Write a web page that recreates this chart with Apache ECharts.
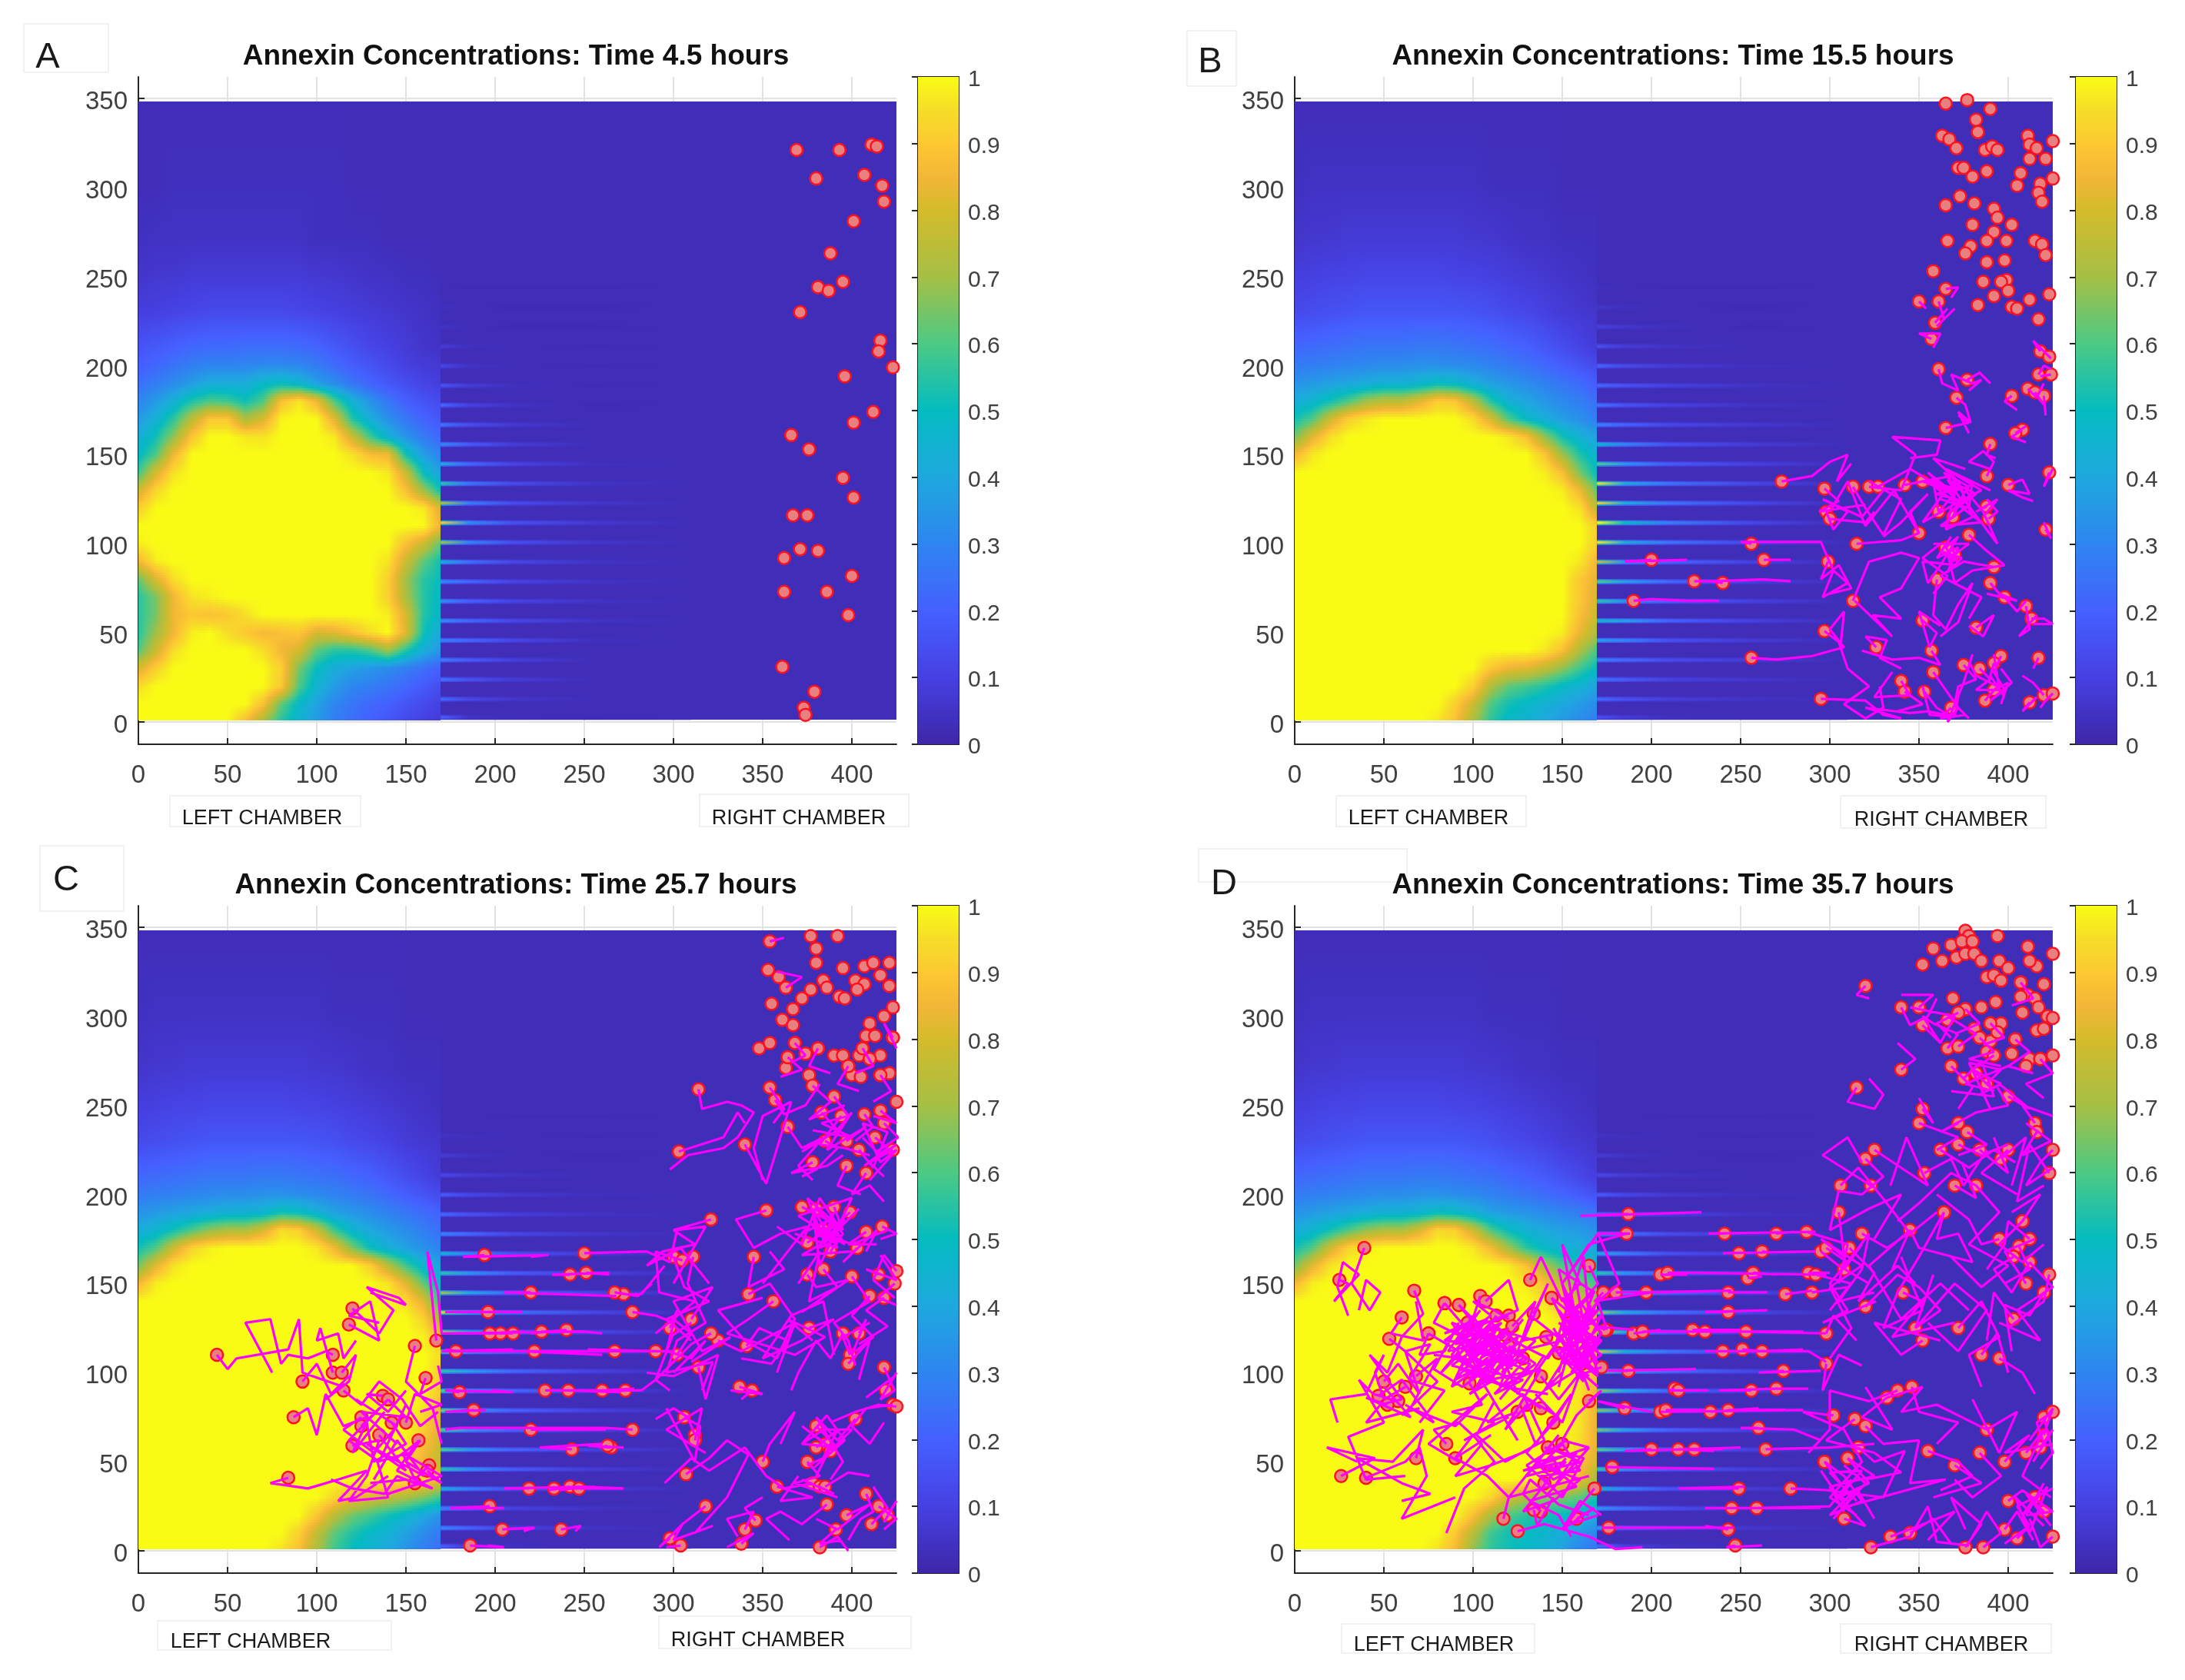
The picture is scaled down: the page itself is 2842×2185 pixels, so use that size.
<!DOCTYPE html>
<html>
<head>
<meta charset="utf-8">
<title>Annexin Concentrations</title>
<script src="https://cdn.jsdelivr.net/npm/echarts@6/dist/echarts.min.js"></script>
<style>html,body{margin:0;padding:0;background:#fff}</style>
</head>
<body>
<div id="main" style="width:2842px;height:2185px"></div>
<script type="text/javascript">
var xTicks = [0,50,100,150,200,250,300,350,400];
var yTicks = [0,50,100,150,200,250,300,350];
var titles = ['Annexin Concentrations: Time 4.5 hours','Annexin Concentrations: Time 15.5 hours','Annexin Concentrations: Time 25.7 hours','Annexin Concentrations: Time 35.7 hours'];

// concentration x100, read at these columns and rows of the left chamber
var colsX = [0,10,20,30,40,50,60,70,80,90,100,110,120,130,140,150,160,169.5];
var rowsY = [348,300,270,250,230,210,200,190,180,170,160,150,140,130,120,110,100,90,80,70,60,50,40,30,20,10,1];

var heatA = [
[3,3,3,3,3,3,3,3,3,3,3,3,3,3,3,3,3,3],
[3,3,4,4,4,4,4,4,4,4,4,4,3,3,3,3,3,3],
[4,5,5,5,5,5,5,5,5,5,4,4,4,4,3,3,3,3],
[6,7,7,8,8,8,8,8,8,8,7,7,6,5,5,4,4,3],
[9,10,11,12,13,13,13,13,13,12,11,10,9,8,7,6,5,4],
[16,18,20,22,23,23,24,24,24,23,21,18,15,12,10,8,6,5],
[19,22,25,28,30,30,30,31,31,30,27,23,19,16,13,10,8,7],
[24,28,32,37,42,42,42,48,50,46,38,32,26,21,17,14,11,9],
[30,36,44,54,60,58,52,60,88,97,85,60,44,34,26,20,16,13],
[36,44,56,75,90,90,72,80,99,100,100,82,55,42,33,26,21,17],
[42,52,68,90,100,100,97,96,100,100,100,97,78,58,44,34,27,22],
[48,60,85,100,100,100,100,100,100,100,100,100,96,87,85,52,37,29],
[58,80,96,100,100,100,100,100,100,100,100,100,100,100,97,78,50,38],
[78,94,100,100,100,100,100,100,100,100,100,100,100,100,100,88,70,52],
[92,100,100,100,100,100,100,100,100,100,100,100,100,100,100,100,97,80],
[100,100,100,100,100,100,100,100,100,100,100,100,100,100,100,100,100,85],
[98,100,100,100,100,100,100,100,100,100,100,100,100,100,100,88,78,62],
[85,98,100,100,100,100,100,100,100,100,100,100,100,100,96,78,62,52],
[62,80,95,100,100,100,100,100,100,100,100,100,100,100,92,70,55,50],
[55,65,85,96,98,100,100,100,100,100,100,100,100,100,92,72,55,48],
[55,65,85,90,88,90,95,100,100,100,100,100,100,100,98,80,55,47],
[55,70,85,98,100,95,90,86,88,90,80,82,88,95,100,82,52,40],
[60,78,95,100,100,100,100,95,85,80,62,55,55,60,70,55,42,35],
[80,92,100,100,100,100,100,100,92,65,50,42,38,35,32,28,24,20],
[95,100,100,100,100,100,100,100,90,60,45,36,30,28,25,22,18,14],
[100,100,100,100,100,100,100,88,62,48,38,30,26,22,20,16,13,10],
[100,100,100,100,100,100,88,72,55,45,36,28,24,20,17,13,10,8]];

var heatB = [
[3,3,3,3,3,3,3,3,3,3,3,3,3,3,3,3,3,3],
[4,5,5,5,5,5,5,5,5,5,5,4,4,4,4,3,3,3],
[6,7,7,8,8,8,8,8,8,8,7,7,6,5,5,4,4,4],
[9,10,11,11,12,12,12,12,12,11,11,10,9,8,7,6,5,4],
[13,14,15,16,17,17,17,17,17,17,16,15,13,12,10,8,7,6],
[22,23,24,25,26,26,26,27,27,26,25,24,22,20,17,14,11,8],
[27,28,29,30,31,32,32,33,33,32,31,29,27,25,22,19,16,13],
[34,36,38,40,42,44,44,46,50,48,43,38,35,32,29,26,23,19],
[42,46,52,60,70,75,75,82,92,90,75,55,44,39,35,31,28,24],
[52,60,78,92,97,100,100,100,100,100,95,80,60,48,42,37,33,28],
[64,82,95,100,100,100,100,100,100,100,100,100,97,88,68,52,44,38],
[85,97,100,100,100,100,100,100,100,100,100,100,100,100,90,70,54,45],
[100,100,100,100,100,100,100,100,100,100,100,100,100,100,98,88,65,50],
[100,100,100,100,100,100,100,100,100,100,100,100,100,100,100,98,85,62],
[100,100,100,100,100,100,100,100,100,100,100,100,100,100,100,100,96,75],
[100,100,100,100,100,100,100,100,100,100,100,100,100,100,100,100,100,92],
[100,100,100,100,100,100,100,100,100,100,100,100,100,100,100,100,100,92],
[100,100,100,100,100,100,100,100,100,100,100,100,100,100,100,100,97,85],
[100,100,100,100,100,100,100,100,100,100,100,100,100,100,100,100,90,82],
[100,100,100,100,100,100,100,100,100,100,100,100,100,100,100,100,90,80],
[100,100,100,100,100,100,100,100,100,100,100,100,100,100,100,100,88,78],
[100,100,100,100,100,100,100,100,100,100,100,100,100,100,100,98,84,72],
[100,100,100,100,100,100,100,100,100,100,100,100,100,100,97,88,72,60],
[100,100,100,100,100,100,100,100,100,100,100,90,84,82,76,68,58,50],
[100,100,100,100,100,100,100,100,100,100,92,72,62,58,54,48,44,38],
[100,100,100,100,100,100,100,100,100,92,78,60,52,48,44,40,36,32],
[100,100,100,100,100,100,100,100,97,88,72,56,48,44,40,36,32,28]];

var heatC = [
[3,3,3,3,3,3,3,3,3,3,3,3,3,3,3,3,3,3],
[4,5,5,5,5,5,5,5,5,5,5,4,4,4,4,3,3,3],
[6,7,7,8,8,8,8,8,8,8,7,7,6,5,5,4,4,4],
[9,10,11,11,12,12,12,12,12,11,11,10,9,8,7,6,5,4],
[13,14,15,16,17,17,17,17,17,17,16,15,13,12,10,8,7,6],
[22,23,24,25,26,26,26,27,27,26,25,24,22,20,17,14,11,8],
[27,28,29,30,31,32,32,33,33,32,31,29,27,25,22,19,16,13],
[34,36,38,40,42,44,44,46,52,50,44,38,35,32,29,26,23,20],
[42,46,52,60,68,72,72,80,95,92,78,58,46,40,36,32,28,24],
[52,60,78,93,98,100,100,100,100,100,97,85,66,50,43,38,33,29],
[64,82,96,100,100,100,100,100,100,100,100,100,100,92,74,58,46,38],
[85,98,100,100,100,100,100,100,100,100,100,100,100,100,96,82,62,46],
[100,100,100,100,100,100,100,100,100,100,100,100,100,100,100,95,82,55],
[100,100,100,100,100,100,100,100,100,100,100,100,100,100,100,100,93,70],
[100,100,100,100,100,100,100,100,100,100,100,100,100,100,100,100,98,88],
[100,100,100,100,100,100,100,100,100,100,100,100,100,100,100,100,100,95],
[100,100,100,100,100,100,100,100,100,100,100,100,100,100,100,100,100,92],
[100,100,100,100,100,100,100,100,100,100,100,100,100,100,100,100,100,90],
[100,100,100,100,100,100,100,100,100,100,100,100,100,100,100,100,96,85],
[100,100,100,100,100,100,100,100,100,100,100,100,100,100,100,100,92,80],
[100,100,100,100,100,100,100,100,100,100,100,100,100,100,100,97,88,78],
[100,100,100,100,100,100,100,100,100,100,100,100,100,100,100,94,84,75],
[100,100,100,100,100,100,100,100,100,100,100,100,100,100,100,97,93,85],
[100,100,100,100,100,100,100,100,100,100,100,94,86,80,76,72,66,58],
[100,100,100,100,100,100,100,100,100,100,90,74,64,58,52,46,40,34],
[100,100,100,100,100,100,100,100,100,92,76,62,54,48,44,38,32,27],
[100,100,100,100,100,100,100,100,96,88,72,58,50,45,40,34,28,24]];

var heatD = [
[3,3,3,3,3,3,3,3,3,3,3,3,3,3,3,3,3,3],
[4,5,5,5,5,5,5,5,5,5,5,4,4,4,4,3,3,3],
[6,7,7,8,8,8,8,8,8,8,7,7,6,5,5,4,4,4],
[9,10,11,11,12,12,12,12,12,11,11,10,9,8,7,6,5,4],
[13,14,15,16,17,17,17,17,17,17,16,15,13,12,10,8,7,6],
[22,23,24,25,26,26,26,27,27,26,25,24,22,20,18,15,12,9],
[27,28,29,30,31,32,32,33,33,32,31,29,27,25,23,21,18,15],
[34,36,38,40,42,44,44,46,50,48,44,38,36,34,32,30,28,25],
[42,46,52,60,68,72,72,80,94,92,78,60,50,44,40,38,36,33],
[52,60,78,93,98,100,100,100,100,100,97,86,70,55,48,44,42,38],
[64,82,96,100,100,100,100,100,100,100,100,100,98,88,72,60,54,48],
[85,98,100,100,100,100,100,100,100,100,100,100,100,97,88,74,65,58],
[100,100,100,100,100,100,100,100,100,100,100,100,100,100,96,88,80,70],
[100,100,100,100,100,100,100,100,100,100,100,100,100,100,100,96,90,78],
[100,100,100,100,100,100,100,100,100,100,100,100,100,100,100,100,96,84],
[100,100,100,100,100,100,100,100,100,100,100,100,100,100,100,100,96,85],
[100,100,100,100,100,100,100,100,100,100,100,100,100,100,100,100,96,85],
[100,100,100,100,100,100,100,100,100,100,100,100,100,100,100,100,96,84],
[100,100,100,100,100,100,100,100,100,100,100,100,100,100,100,100,96,83],
[100,100,100,100,100,100,100,100,100,100,100,100,100,100,100,100,96,82],
[100,100,100,100,100,100,100,100,100,100,100,100,100,100,100,100,95,82],
[100,100,100,100,100,100,100,100,100,100,100,100,100,100,100,97,90,80],
[100,100,100,100,100,100,100,100,100,100,100,100,100,100,97,92,84,70],
[100,100,100,100,100,100,100,100,100,100,100,94,80,72,68,66,62,52],
[100,100,100,100,100,100,100,100,100,100,88,72,60,55,52,50,46,40],
[100,100,100,100,100,100,100,100,100,90,74,58,52,50,46,42,36,30],
[100,100,100,100,100,100,100,100,96,86,68,56,52,48,44,38,30,25]];

// channels joining the chambers: concentration x100 at channelX along each channel
var channelY = [2.6,12.8,23.8,34.8,45.8,56.8,67.8,78.8,89.8,100.8,111.8,122.8,133.8,144.8,155.8,166.8,177.8,188.8,199.8,210.8,221.8,232.8,243.8];
var channelX = [169.5,185,210,255,310];
var channelA = [[20,5,3,2],[22,12,6,3],[25,15,8,3],[28,18,9,3],[30,22,12,4],[33,22,12,5],[33,20,11,5],[32,21,11,5],[45,24,12,5],[70,30,14,6],[90,33,15,7],[72,28,13,6],[55,26,13,5],[42,22,11,4],[32,18,8,3],[26,14,7,3],[22,10,5,2],[16,8,4,2],[12,5,3,2],[8,4,3,2],[5,3,2,2],[4,3,2,2],[3,2,2,2]];
var channelB = [[15,8,4,3],[22,15,9,5],[25,18,10,6],[30,22,13,8],[38,30,15,8],[48,38,20,10],[55,34,20,10],[60,38,22,10],[80,35,22,10],[95,42,25,12],[100,50,28,12],[90,42,25,12],[95,42,25,12],[60,35,18,10],[48,30,15,8],[30,20,12,7],[25,16,10,5],[22,15,10,5],[20,13,8,4],[14,8,5,3],[10,6,4,2],[6,4,3,2],[4,3,2,2]];
var channelC = [[20,8,4,3],[30,20,10,5],[30,20,10,5],[45,28,15,8],[55,34,18,8],[60,36,20,10],[60,36,20,10],[65,38,20,10],[60,35,22,10],[55,38,22,10],[60,40,24,12],[70,40,22,12],[90,45,25,12],[70,40,22,12],[55,35,18,10],[45,30,15,8],[30,22,12,6],[22,15,9,5],[18,12,7,4],[12,8,5,3],[8,5,3,2],[5,4,3,2],[3,3,2,2]];
var channelD = [[25,10,5,3],[35,22,12,6],[35,24,14,6],[50,30,16,8],[55,34,18,9],[62,38,20,10],[65,38,20,10],[68,40,22,10],[72,40,22,10],[78,42,24,12],[85,44,25,12],[75,42,24,12],[72,42,24,12],[68,40,22,11],[55,35,18,10],[40,28,14,8],[32,24,13,7],[24,16,10,5],[18,12,7,4],[12,8,5,3],[8,5,3,2],[5,4,3,2],[3,3,2,2]];

// cells without a visible trail, x,y pairs
var cellsA = [369,321,393,321,411,324,414,323,380,305,407,307,417,301,418,292,401,281,388,263,381,244,387,242,395,247,371,230,416,214,415,208,423,199,396,194,412,174,401,168,366,161,376,153,395,137,401,126,367,116,375,116,371,97,381,96,362,92,400,82,362,73,386,73,398,60,361,31,379,17,373,8,374,4];
var cellsB = [365,347,377,349,390,344,382,338,383,331,363,329,367,327,371,322,387,321,391,323,394,321,411,329,412,324,416,322,425,326,412,316,421,316,372,311,375,311,380,306,388,309,407,308,405,301,418,302,425,305,417,297,419,292,365,290,373,295,381,291,392,288,394,283,402,279,380,279,392,275,388,270,399,270,366,270,379,267,376,263,415,270,419,268,421,262,398,259,388,258,358,253,399,248,386,247,396,247,400,242,392,239,423,240,402,233,405,232,412,237,383,234,417,226];
var cellsC = [377,345,380,338,392,345,380,330,353,326,359,322,395,327,402,320,407,328,412,330,421,330,416,323,407,318,421,317,403,315,377,315,384,320,386,316,393,311,396,310,372,310,355,307,367,304,423,305,418,300,410,296,361,298,367,295,408,289,413,289,423,288,348,282,354,285,368,285,381,282,374,279,406,282,404,278,390,278,395,278,416,278,410,276,364,277,363,271,398,272,400,267,405,266,416,267,421,268,376,267,425,252];
var cellsD = [376,348,378,345,394,345,358,338,368,340,374,342,380,342,411,339,425,335,352,329,363,331,371,333,376,335,381,335,385,331,395,331,400,327,416,328,412,331,407,319,420,318,388,322,392,323,396,320,369,310,411,312,407,311,415,310,393,308,408,302,417,305,376,304,385,305,366,298,372,302,422,300,425,299,390,296,396,296,381,293,384,288,390,286,394,291,416,292,420,293,404,287,388,280,392,278,402,279,412,276,418,276,425,278,410,272];

// trails: the first pair is the cell, the rest is the path behind it
var tracksB = [
[365,243,372,244,368,238],[350,236,354,232],[361,236,364,226,370,232,360,222],[359,224,366,232],[357,215,350,218,362,218,358,210],
[418,208,414,214,424,204],[423,205,420,208],[361,198,363,190,372,186,368,195,380,190,385,192,378,186],[377,192,384,196,390,190],[371,182,376,178,379,168,372,174,378,162],
[365,165,378,168,372,172],[402,183,398,180,405,175],[411,187,416,182,420,190],[415,185,420,178],[420,183,421,172],[417,195,420,200,424,198],[424,195,418,194],
[390,156,388,150,393,148],[408,164,402,160,410,157],[404,162,410,166],[423,140,420,132,425,142],[388,138,392,146,386,152,378,146,390,142],[400,133,408,136,412,128,400,130,408,126,414,124],
[273,135,290,138,300,146,310,150,304,135,312,145],[297,131,305,124,294,118,320,122],[313,132,320,120,330,105,340,125,322,135],[322,132,340,130,348,150,335,160,362,158,360,150,345,148],
[327,132,345,142,365,130,352,112,375,125,385,130,365,142,390,130],[342,133,352,135,370,128,355,140,376,120,362,110,385,112,355,135],
[361,118,370,128,365,108,380,115,372,135,358,148,376,142],[369,115,376,130,386,118,394,100,375,125,366,116],[352,135,368,138,375,128,380,135,378,120,362,125],
[350,106,345,118,355,128,340,112,330,104],[315,100,340,102,350,106,336,130,320,110,310,135,300,118],[388,121,382,118,394,125,386,115],[389,114,394,118,388,125],
[298,118,302,108,310,118,296,125,318,115,330,130],[300,114,320,112,325,118],[421,108,424,103,420,112],[378,105,388,96,398,88,380,85,370,78,366,95],
[256,100,250,101,295,101,302,85,310,78,296,70,302,85],[263,91,272,91,278,91],[200,91,185,90,220,91],[224,79,235,79,262,80,278,79],[240,78,232,79],
[190,68,200,69,220,68,238,68],[299,90,295,80,305,88,312,75,300,72],[365,98,372,104,362,88,355,78,352,90,372,88,368,100,358,100],[370,94,378,100,362,100,352,92,366,82,358,72],
[360,80,358,60,365,52,372,66,380,78,372,56,362,48],[392,87,375,90,362,82,385,70,378,58],[390,78,395,72,405,68,388,72],[398,70,405,62,410,68],[410,65,412,52,406,48,416,60],
[413,58,420,58,425,55,414,55],[313,68,322,90,340,95,350,92,340,75,328,70,340,58,324,60,335,48,314,68],[352,57,360,50,356,42,350,62,362,54],[382,53,392,60,386,48,378,54],
[396,37,392,28,398,18,390,12,402,22,396,30],[297,51,305,45,310,30,322,20,308,10,320,2,330,8,328,20],[256,36,270,35,290,37,308,42,300,52,308,62,306,42],
[326,42,320,48,332,46,328,36,340,30],[357,40,362,32,350,36,335,35,318,40],[358,28,365,18,372,8,366,0,375,22,380,38],[375,32,382,24,372,20,370,10,378,2],
[384,30,390,24,382,18,395,18,392,38],[392,33,390,26,398,14,394,20],[392,18,400,22,396,10],[387,12,394,20,382,26,378,34],[295,13,320,12,330,4,340,2,320,8,345,5,355,6,370,3,372,14],
[340,23,345,15,325,14,335,28],[342,17,352,10,338,6],[353,17,360,8,368,3,356,4,352,20],[368,8,362,2,376,4],[412,11,408,6,416,14],[420,15,414,22,408,26],[425,16,421,12,418,8],[417,36,414,30],
[361,118,358,135,372,130,364,140,378,132,360,128,374,124,366,136,382,128,368,118],[365,98,370,90,362,96,374,92,366,84,372,98,360,92,368,104]
];

var tracksC = [
[354,342,362,344],[363,316,372,322,358,325],[314,259,316,248,330,252,338,250,345,246,336,232,328,226,308,222,298,214],[303,224,328,232,336,246,340,240],[340,228,352,206,366,252,350,244,345,226,350,208],
[357,253,362,245,374,250,382,262],[354,260,362,248,356,240],[378,261,388,252,376,242,396,250],[390,255,398,244,383,240,400,232,378,236],[383,246,392,236,372,224],[394,244,382,228,396,226,410,222],
[364,238,372,226,384,232,370,216,378,208],[378,218,366,212,386,216,395,222],[385,230,392,226,380,214,372,210],[413,232,420,226,407,216,425,228],[423,225,410,218,418,210],[408,212,400,200,410,205,418,196],
[418,240,426,232,414,224,406,232],[407,245,412,238,402,230],[416,247,425,240,412,244],[397,216,392,205,405,200],[372,193,388,185,396,172,370,188,400,198,382,160,378,192,392,170,368,178],
[380,192,392,180,404,192,386,174,372,166,400,168],[390,193,395,180,375,198,386,170],[399,190,385,178,400,172,420,180],[375,173,392,183,382,198,372,172,358,182],[388,168,395,178,388,186,372,178],
[403,170,395,162,414,180,408,168],[408,179,398,172,414,172],[417,182,425,178,416,175],[352,191,335,186,345,170,360,178,375,182,350,150],[321,186,300,180,312,172,294,168,285,160,304,170,320,150],
[345,165,342,148,362,158,354,168],[300,165,306,148,320,140,296,130,310,118],[311,165,308,150,318,128,302,118,296,100,322,106,316,90],[305,163,290,168,292,145,312,140,290,122],
[375,155,380,148,398,152,372,134],[384,158,392,148,376,140,382,168,370,150],[400,154,410,140,390,128,398,118,402,104],[415,155,408,158,425,152,416,166],[425,157,418,166,412,152,424,142],[424,150,415,142,425,138],
[418,142,408,135,420,126,404,116],[410,143,400,132,412,120,402,112],[342,144,354,150,368,130,358,108,340,118,325,135,350,142],[356,140,342,130,330,122,368,110,385,120,364,130,378,118],
[376,125,390,130,372,118,350,108,366,132,384,140,390,110],[395,122,388,108,380,118,370,100,366,90],[404,122,408,130,400,110],[399,110,395,120,410,128],[398,105,410,118,404,96],
[341,115,348,125,364,118,355,105,338,108],[325,118,338,112,346,116,368,128,358,100],[321,122,310,116,300,106,290,96,300,122],[298,125,302,135,296,112,310,108,318,118,300,100],[302,110,310,122,300,130],
[314,103,318,85,325,110,300,98,285,100],[418,103,424,90,416,85,425,100],[423,82,408,80,400,70,410,60,418,72],[419,90,424,98,408,86],[425,81,415,82,402,78,388,72],[337,92,350,88,332,90],[344,90,338,85],
[402,74,392,62,380,75,395,50,388,40],[385,60,372,70,388,58,380,42],[380,58,392,68,384,52,375,48],[388,56,400,68,384,68,372,60],[375,50,382,42,368,38,392,30],[378,38,362,35,352,42,340,58,320,45,310,52,295,38],
[307,43,320,52,330,62,342,54,330,30,312,10],[350,50,354,60,368,78,360,60],[306,75,315,70,312,50,296,80],[312,65,308,75,300,80,290,74],[312,62,316,80,296,68,318,55],
[358,36,378,30,360,28,370,42],[382,36,390,32,372,40],[386,26,372,15,360,22,352,18,365,6],[385,36,398,44,410,42],[408,32,412,22,405,18,398,6],[397,20,410,26,392,12,380,18],[411,15,420,24,412,36],[415,25,425,18,418,12],[420,20,425,28,418,16],
[318,25,305,15,300,6,322,14],[340,12,345,22,330,18,336,8],[346,17,340,24,350,30],[391,12,382,4,394,6],[338,4,345,10,330,2],[298,7,292,2,305,15],[304,3,296,2],[382,2,392,8,398,0],
[109,110,105,112,95,108,84,110,80,105,74,130,60,128,75,100],[44,110,50,102,55,108,84,113,90,130,92,100,115,92],[120,136,135,122,143,135,128,148,146,142,150,138,130,145],[118,127,135,118,130,140,118,132,135,128],
[155,115,150,95,165,80,170,60],[167,118,162,168,168,145,170,122],[109,100,102,125,100,118,112,122,115,108,122,118],[114,100,122,110,118,95,105,85],[92,95,100,105,108,88,118,98],[115,90,125,82,135,95,148,85,158,70,168,78],
[161,97,158,88,170,95,168,104],[150,72,155,88,170,82,158,78],[137,87,128,88,140,78,150,90],[140,85,150,75,125,78,145,60],[142,72,150,60,132,50,128,72,120,55,138,78],[125,75,115,68,132,55,145,70,122,85],
[87,75,95,80,100,65,105,88,115,70,128,75],[120,59,135,62,128,42,118,28,140,30,134,50,152,55],[157,62,145,45,165,35,150,40,130,38],[163,48,155,40,148,55,170,42,140,32],[155,38,145,42,138,32,120,35,108,40],[162,45,170,38,150,50,158,62,142,50],
[84,41,74,38,95,35,112,40,128,45,112,28,122,30,140,42],[186,3,205,2,196,3],[204,12,222,13,216,11],[237,12,248,14,245,11],[197,25,175,24,205,24],[219,35,205,35,250,36,236,34],[233,35,272,35,250,36],[242,36,230,34],[247,35,256,36],
[243,57,225,58,260,60],[265,58,252,59,272,58],[263,59,258,58],[277,68,262,69,240,69,180,69,172,68],[220,68,262,68],[188,79,172,78,195,79],[180,89,172,90,210,89,198,90],[228,90,282,90,290,96,298,90],[241,90,270,89],[260,90,278,91],[273,90,262,89],
[290,112,300,112,215,112,260,110],[222,112,170,112,210,113],[178,112,172,113],[267,112,252,113,290,112],[210,122,170,122,250,123,260,122],[203,122,216,123],[197,122,212,123],[226,123,250,123],[240,124,220,122],[196,134,172,134,215,134],
[277,134,290,132,300,128,298,120,310,128],[220,145,205,145,268,143],[272,144,282,144,295,160],[267,145,280,143,288,150],[242,155,232,155,264,156],[251,156,264,155],[194,166,182,165,230,166,220,165],[250,167,285,168,298,162,302,180,318,182,300,150],
[384,180,392,172,380,178,396,186,386,176,376,184,394,176,382,170,390,190,378,174],[404,225,412,215,420,235,406,240,416,218,425,225,410,208],[397,230,408,238,386,225,400,246,390,234],[310,130,322,148,300,140,316,112,332,120,310,106],[380,70,392,58,372,60,386,76,396,62,378,46],[135,65,150,45,128,60,160,42,145,62,132,40],[125,70,140,85,118,62,135,50,150,82],
[364,277,372,270,360,266],[381,282,376,272,388,268],[398,272,392,262,404,258],[416,267,422,258,412,252],[368,285,374,278,366,274],[423,288,418,296,425,282],[406,282,412,272,402,268]
];

var tracksD = [
[25,152,30,150,22,140,36,155,27,162,24,148,30,132],[39,170,32,150,42,135,48,145,40,152,36,135],[67,146,72,133,60,120,52,100,42,110,60,85,48,82,40,72,70,80],[84,139,78,128,94,120,110,132,100,140,112,135,120,130],[104,143,96,118,112,110,128,130],
[92,138,100,130,84,118,116,115,98,100,118,92,90,108,110,128],[97,128,108,118,92,102,112,96,98,88,124,110,104,125,118,100],[60,131,54,122,72,118,68,140],[75,122,70,110,84,112,92,128,78,102,94,92,116,108],[53,119,62,112,76,116,64,96,84,90,70,72],
[108,98,118,115,100,122,130,108,112,88,128,96,96,104,120,125],[110,118,122,106,100,112,116,128,92,118,108,94,124,114],[118,121,104,108,125,120,115,92,132,100,100,116,112,130],[128,108,116,100,135,118,110,125,125,88,140,110],
[132,152,138,165,150,140,160,150,150,172,158,128,148,118,170,135],[134,133,142,150,128,118,148,122,160,104,170,118],[141,120,152,105,170,125,150,142,165,110,158,150],[120,132,110,128,128,115,142,108,155,128,135,100],[122,126,135,140,125,112,150,118,132,132],
[144,142,155,120,170,140,150,105,165,130,162,165,145,112,168,120],[155,128,165,115,148,135,170,105,150,150,160,120],[165,160,170,150,155,132,168,118,152,108,170,92],[155,133,168,145,148,158,160,108,170,128],[163,108,150,118,170,100,158,135,148,100],[165,115,155,100,172,122,160,140],
[148,111,162,95,150,125,172,110,140,90,158,118],[172,103,158,98,170,118,152,125,165,90],[138,98,148,85,160,100,150,72,135,88],[161,105,170,98,155,118,148,92],[165,84,172,90,158,76,150,62,165,58],
[175,124,170,140,182,150,170,178,188,178],[62,92,50,85,45,100,50,110,40,88,20,85,24,72],[50,95,58,105,70,88,62,112,80,95,60,76],[58,84,44,88,36,96,50,72,30,64,40,40,62,42],[68,98,80,108,65,80,90,70,108,88,75,60,92,50],[47,87,60,96,78,72,62,82],
[52,82,40,86,65,75,50,92],[98,94,105,82,88,78,112,72,95,62,120,75],[125,78,108,72,128,88,140,62,118,50,102,65,112,84],[138,80,120,92,148,75,130,55,145,40,160,48],[130,82,118,68,138,102,105,95,125,62],[145,72,155,88,135,60,128,78,150,100],
[68,52,72,68,55,50,35,52,60,38,76,32,60,28],[85,60,78,68,92,72,105,60,90,42,110,48,130,56],[90,52,100,65,112,50,95,35,85,10],[150,60,138,48,160,40,145,28,128,22,152,52],[142,58,160,50,130,42,148,65,120,30,165,42],[140,38,152,50,128,45,165,58,142,32],
[143,48,158,36,132,28,148,20,155,8],[26,42,45,52,18,58,35,50],[40,41,62,50,70,58,74,42,60,18,90,30],[138,22,128,32,132,40,148,26,165,20],[117,18,120,30,108,42,90,52,110,65],[158,18,168,24,150,12,160,28,172,20],[125,11,140,15,165,8,180,1,195,2],[168,35,160,25,152,14,170,20],
[134,23,136,14,145,30],[107,140,120,152,125,135,100,125,118,108],[100,124,88,110,110,98,125,118],[113,132,100,112,132,105,115,85],[158,126,170,118,155,105,166,138],[120,115,135,105,118,92,142,88],
[187,189,160,188,228,190],[186,178,165,172,150,150,170,178],[241,178,232,178,292,179],[270,178,280,179],[287,179,310,172,305,150],[249,167,240,167,292,168],[262,168,270,167],[295,168,305,160,322,150],
[205,155,220,155],[209,156,225,156,298,155],[254,153,262,154],[257,156,270,155],[288,156,300,156],[292,155,312,150,300,135],[173,145,168,140,200,145],[180,145,210,145],[197,145,245,146],[243,145,265,145],[275,144,290,146],[290,145,310,148],
[243,134,230,134,265,135],[174,124,170,126,190,124],[190,122,205,124],[195,123,240,123],[223,124,250,124],[230,123,285,123],[253,123,298,122],[298,122,302,132,315,118],[240,112,230,112,288,112,298,106],[251,113,262,112],[262,112,285,113],
[298,105,296,90,305,110,318,104],[187,101,175,101,225,102],[274,101,260,100,295,101],[213,91,210,90,232,90],[215,90,228,90],[256,90,238,90,270,91],[270,91,288,91],[185,80,170,84,200,78],[205,78,285,79],[208,79,230,79],[233,78,260,80],[243,79,275,79],
[260,69,250,69,280,68,295,62],[200,57,185,56,250,58],[215,57,235,56],[224,57,240,57],[264,57,300,58,325,60],[178,47,175,47,235,46],[249,35,215,35,252,36],[278,35,300,34,310,28],[245,24,230,24,295,24],[259,24,300,25,312,40],[176,13,172,13,246,13],[243,12,230,14],[247,3,242,2,262,3],
[305,190,308,165,295,175,318,160,300,148,312,125,300,108],[298,170,310,162,322,178,318,158,305,140,325,145],[308,158,318,172,300,150,310,135,296,128,326,140],[311,170,325,156,316,140,338,160,348,150],[318,178,332,170,344,178,335,158],
[320,220,330,210,318,200,305,202,300,180,322,192,340,200,325,175],[306,205,316,215,332,195,345,178,360,190],[323,205,296,222,310,232,318,218],[325,225,340,215,355,205,343,232,334,205],[353,212,368,220,375,205,388,225],
[382,205,368,212,350,195,338,185],[364,190,360,175,372,178,380,162,350,170,345,180],[395,175,385,172,378,186,360,200],[408,185,395,172,408,162,420,172],[406,171,412,158,398,150],[412,175,400,185,398,172,388,158],
[403,165,392,158,402,145,412,162],[423,155,420,140,400,125],[420,145,412,132,398,138,402,112],[410,150,398,168,415,175],[372,125,385,140,395,120,378,110,385,92],[403,130,392,145,388,118],[385,110,394,122,400,100],[395,108,408,100,415,88],
[320,137,338,155,350,148,362,135,348,125,358,155],[341,145,352,140,335,120,370,128],[352,118,340,110,325,128,362,118],[332,86,352,92,340,78,360,82,388,68],[338,90,322,84,300,90,300,68,288,55],[346,92,350,78,372,72,360,60],
[302,76,285,78,308,68,318,50,300,30,315,20],[314,74,298,62,325,55,340,44,320,40],[320,70,330,60,350,62,345,38,365,40,310,25],[316,58,325,50,342,56,330,30,298,34],[297,50,308,42,318,28,300,20,315,35,325,18],[310,52,325,42,300,36,308,22],
[308,18,320,14,305,30,295,45],[323,2,345,8,355,25,360,5,378,3],[334,8,350,14,370,22,355,6],[345,10,358,18,368,4],[376,2,385,15,368,30,376,12],[386,2,396,10,388,22,380,8],[384,55,396,42,380,30,370,40],[355,56,372,50,380,42,362,34],[370,48,385,38,358,30],
[398,50,412,65,398,55,425,60],[410,55,420,68,408,42,424,30],[420,65,425,80,412,62],[418,58,425,68,414,50],[420,75,425,55,418,46],[425,78,416,72,420,60],[400,28,408,34,425,22,410,20,420,38],[415,30,425,35,405,25,412,14],[420,22,410,32,424,14],[425,8,418,2,412,18],[398,12,405,22,414,6],[405,7,412,14,398,4],
[315,260,310,252,325,248,330,256,322,265],[352,248,358,240,350,254],[372,240,362,235,382,246,400,250,394,260],[415,240,408,250,425,244],[400,255,412,248,395,262],[388,262,396,270,378,274,390,248],[382,268,392,258,376,262,400,272],[375,265,385,275,392,255,368,258],
[366,282,372,290,358,296,352,300,362,285],[340,270,348,276,338,285],[340,305,345,295,355,300,360,310],[352,295,362,285,370,300,345,305],[350,305,358,312,340,312],[320,317,315,312,322,310],[372,283,382,290,366,300],[368,272,380,260,372,248],
[425,225,418,218,410,205,425,215],[423,212,412,228,405,196,420,205],[408,185,418,200,402,190],[416,235,408,222,424,230,410,240],[362,225,378,215,392,225,404,218],[372,228,385,222,400,228],[384,225,400,212,392,232],[396,220,410,232,402,205],[400,225,385,212,405,200],[377,235,388,228,372,222],[370,205,382,198,374,218],
[92,138,105,122,88,128,102,108,94,124,112,118,86,112,100,132,116,104],[97,128,84,122,108,130,92,110,104,100,88,104,110,120,96,112,120,96],[108,98,94,116,114,126,98,96,116,110,90,96,106,114,122,102],[110,118,96,106,118,124,102,92,112,108,128,118,100,102],
[75,122,92,112,82,100,100,118,88,92,108,106,78,110],[84,139,96,125,104,135,90,116,110,122,98,108],[155,128,168,136,150,112,166,102,154,140,170,112,148,128],[144,142,165,125,152,118,172,132,158,104,145,125],[163,108,172,118,150,130,168,146,155,112],[165,115,150,128,170,135,148,110,165,98],
[142,58,150,42,136,50,158,55,145,35,130,48,152,62],[150,60,160,45,138,42,150,30,162,52,140,58],[310,52,322,38,305,30,318,45,300,44,315,28],[297,50,312,30,302,18,320,38,308,48],[415,30,408,20,422,36,412,10,404,30,420,14],[350,240,372,232,360,225],
[382,205,395,190,378,172,400,160,385,148,368,165],[364,190,350,165,338,145,330,125,352,135,340,165],[345,180,322,160,340,130,362,150,378,135],[348,125,370,150,388,135,372,112,355,128],[412,162,425,148,405,135,418,118,395,128],[332,86,318,75,335,68,320,92],[388,68,405,78,395,55,380,85],
[384,288,392,280,378,276,396,272],[404,287,412,280,400,272,414,268],[390,296,398,288,386,284],[418,276,425,268,410,262,420,254],[376,304,384,296,370,290],[407,319,414,310,402,306],[392,278,380,270,396,262,384,256],[372,302,360,296,368,288]
];

var parulaStops = [[0,62,38,168],[10,70,64,226],[20,69,96,255],[30,46,133,240],[40,30,168,222],[50,4,187,192],[60,76,201,133],[70,165,191,69],[80,212,187,43],[85,243,182,56],[90,252,200,50],[95,246,221,40],[100,249,251,21]];

function parula(p) {
    p = Math.max(0, Math.min(100, p));
    for (var k = 1; k < parulaStops.length; k++) {
        if (p <= parulaStops[k][0]) {
            var a = parulaStops[k-1], b = parulaStops[k], t = (p - a[0]) / (b[0] - a[0]);
            return 'rgb(' + Math.round(a[1]+(b[1]-a[1])*t) + ',' + Math.round(a[2]+(b[2]-a[2])*t) + ',' + Math.round(a[3]+(b[3]-a[3])*t) + ')';
        }
    }
    return 'rgb(249,251,21)';
}

// pcolor with interpolated shading: each cell is painted in strips
function heatItem(grid, cells) {
    return function (params, api) {
        var c = cells[params.dataIndex], i = c[0], j = c[1];
        var p0 = api.coord([colsX[i], rowsY[j]]), p1 = api.coord([colsX[i+1], rowsY[j+1]]);
        var l = Math.round(p0[0]), r = Math.round(p1[0]), t = Math.round(p0[1]), b = Math.round(p1[1]);
        var n = Math.max(1, Math.round((b - t) / 3)), kids = [];
        for (var s = 0; s < n; s++) {
            var f = (s + 0.5) / n;
            var vl = grid[j][i] + (grid[j+1][i] - grid[j][i]) * f, vr = grid[j][i+1] + (grid[j+1][i+1] - grid[j][i+1]) * f;
            var stops = [];
            for (var q = 0; q <= 4; q++) stops.push({offset: q/4, color: parula(vl + (vr-vl)*q/4)});
            var y0 = t + Math.round(s*(b-t)/n), y1 = t + Math.round((s+1)*(b-t)/n);
            kids.push({type: 'rect', shape: {x: l, y: y0, width: r-l, height: y1-y0},
                style: {fill: {type: 'linear', x: 0, y: 0, x2: 1, y2: 0, colorStops: stops}}});
        }
        return {type: 'group', children: kids};
    };
}

function channelItem(values) {
    return function (params, api) {
        var k = params.dataIndex, y = channelY[k], v = values[k].concat([3]);
        var start = channelX[0], end = channelX[channelX.length-1], kids = [];
        var p0 = api.coord([start, 348]), p1 = api.coord([425, 1]);
        if (k === 0) kids.push({type: 'rect', shape: {x: Math.round(p0[0]), y: Math.round(p0[1]), width: Math.round(p1[0]-p0[0]), height: Math.round(p1[1]-p0[1])}, style: {fill: parula(3)}});
        [[1.4, 0.55], [0.7, 1]].forEach(function (w) {
            var a = api.coord([start, y + w[0]]), b = api.coord([end, y - w[0]]), stops = [];
            for (var q = 0; q < v.length; q++) stops.push({offset: (channelX[q]-start)/(end-start), color: parula(3 + (v[q]-3)*w[1])});
            kids.push({type: 'rect', shape: {x: a[0], y: a[1], width: b[0]-a[0], height: b[1]-a[1]},
                style: {fill: {type: 'linear', x: 0, y: 0, x2: 1, y2: 0, colorStops: stops}}});
        });
        return {type: 'group', children: kids};
    };
}

function pairs(flat) {
    var out = [];
    for (var i = 0; i < flat.length; i += 2) out.push([flat[i], flat[i+1]]);
    return out;
}

var fontName = '"Liberation Sans", Arial, sans-serif';
var panels = [
    {left: 180, top: 100, letter: 'A', heat: heatA, ch: channelA, cells: cellsA, tracks: []},
    {left: 1684, top: 100, letter: 'B', heat: heatB, ch: channelB, cells: cellsB, tracks: tracksB},
    {left: 180, top: 1178, letter: 'C', heat: heatC, ch: channelC, cells: cellsC, tracks: tracksC},
    {left: 1684, top: 1178, letter: 'D', heat: heatD, ch: channelD, cells: cellsD, tracks: tracksD}
];
var plotW = 986, plotH = 868, barW = 53;
var grids = [], xAxes = [], yAxes = [], series = [], titleList = [];

panels.forEach(function (p, idx) {
    var g = idx * 2;
    grids.push({left: p.left, top: p.top, width: plotW, height: plotH});
    grids.push({left: p.left + plotW + (idx % 2 ? 30 : 28), top: p.top, width: barW, height: plotH, show: true, borderColor: '#262626', borderWidth: 2, backgroundColor: 'transparent'});
    var axisLine = {show: true, onZero: false, lineStyle: {color: '#262626', width: 2}};
    var tick = {show: true, inside: true, length: 8, lineStyle: {color: '#262626', width: 2}};
    var label = {color: '#404040', fontSize: 33, fontFamily: fontName};
    xAxes.push({type: 'value', gridIndex: g, min: 0, max: 425, position: 'bottom', axisLine: axisLine,
        axisTick: Object.assign({customValues: xTicks}, tick),
        axisLabel: Object.assign({customValues: xTicks, margin: 24}, label),
        splitLine: {show: true, lineStyle: {color: '#e2e2e2', width: 2}}});
    yAxes.push({type: 'value', gridIndex: g, min: -12.5, max: 362, position: 'left', axisLine: axisLine,
        axisTick: Object.assign({customValues: yTicks}, tick),
        axisLabel: Object.assign({customValues: yTicks, margin: 14, verticalAlign: 'top', lineHeight: 10, formatter: function (v) { return String(v); }}, label),
        splitLine: {show: true, lineStyle: {color: '#e2e2e2', width: 2}}});
    xAxes.push({type: 'value', gridIndex: g+1, min: 0, max: 1, show: false});
    yAxes.push({type: 'value', gridIndex: g+1, min: 0, max: 1, interval: 0.1, position: 'right', z: 5,
        axisLine: {show: false}, splitLine: {show: false},
        axisTick: {show: true, inside: true, length: 8, lineStyle: {color: '#262626', width: 2}},
        axisLabel: {color: '#404040', fontSize: 30, fontFamily: fontName, margin: 12, verticalAlign: 'top', lineHeight: 8, formatter: function (v) { return String(Math.round(v*10)/10); }}});

    var cells = [];
    for (var j = 0; j < rowsY.length-1; j++) for (var i = 0; i < colsX.length-1; i++) cells.push([i, j]);
    series.push({type: 'custom', xAxisIndex: g, yAxisIndex: g, data: cells, renderItem: heatItem(p.heat, cells), silent: true, clip: false, z: 2, progressive: 0, animation: false});
    series.push({type: 'custom', xAxisIndex: g, yAxisIndex: g, data: channelY.map(function (y, k) { return [k]; }), renderItem: channelItem(p.ch), silent: true, clip: false, z: 3, progressive: 0, animation: false});

    var dots = pairs(p.cells), line = [];
    p.tracks.forEach(function (t) {
        var pts = pairs(t);
        dots.push(pts[0]);
        pts.forEach(function (q) { line.push(q); });
        line.push(['-', '-']);
    });
    series.push({type: 'scatter', xAxisIndex: g, yAxisIndex: g, data: dots, symbolSize: 16, clip: false, silent: true, z: 4, animation: false, progressive: 0,
        itemStyle: {color: '#e8807f', borderColor: '#ff1020', borderWidth: 2.5, opacity: 1}});
    if (line.length) series.push({type: 'line', xAxisIndex: g, yAxisIndex: g, data: line, showSymbol: false, symbol: 'none', clip: false, silent: true, z: 5, animation: false, connectNulls: false, sampling: null, progressive: 0,
        lineStyle: {color: '#ff00ff', width: 3.2}});

    series.push({type: 'custom', xAxisIndex: g+1, yAxisIndex: g+1, data: [[0, 0]], silent: true, z: 2, clip: false, animation: false, renderItem: function (params, api) {
        var a = api.coord([0, 1]), b = api.coord([1, 0]), stops = [];
        for (var q = 0; q <= 40; q++) stops.push({offset: q/40, color: parula(100 - q*2.5)});
        return {type: 'rect', shape: {x: a[0], y: a[1], width: b[0]-a[0], height: b[1]-a[1]},
            style: {fill: {type: 'linear', x: 0, y: 0, x2: 0, y2: 1, colorStops: stops}}};
    }});
    titleList.push({text: titles[idx], left: p.left + 487 - (idx % 2 ? 0 : 1), top: p.top - 50, textAlign: 'center',
        textStyle: {fontFamily: fontName, fontWeight: 'bold', fontSize: 37, color: '#111'}});
});

// annotation boxes: x, y, w, h, text x, text y, text, font size
var boxes = [
    [31,31,110,63,62,75,'A',47],[1544,40,64,72,1574,81,'B',47],[52,1100,109,85,86,1145,'C',47],[1559,1104,271,43,1592,1150,'D',47],
    [221,1035,248,40,341,1065,'LEFT CHAMBER',27],[910,1033,272,42,1039,1065,'RIGHT CHAMBER',27],
    [1738,1035,247,40,1858,1065,'LEFT CHAMBER',27],[2394,1035,267,42,2525,1067,'RIGHT CHAMBER',27],
    [205,2108,304,38,326,2136,'LEFT CHAMBER',27],[857,2102,328,42,986,2134,'RIGHT CHAMBER',27],
    [1745,2112,251,38,1865,2140,'LEFT CHAMBER',27],[2394,2112,274,38,2525,2140,'RIGHT CHAMBER',27]
];
var graphics = [];
boxes.forEach(function (b) {
    graphics.push({type: 'rect', z: 1, shape: {x: b[0], y: b[1], width: b[2], height: b[3]}, style: {fill: '#fff', stroke: '#f1f1f1', lineWidth: 2}});
    graphics.push({type: 'text', z: 2, style: {x: b[4], y: b[5], text: b[6], align: 'center', verticalAlign: 'middle', fill: '#1a1a1a', font: b[7] + 'px ' + fontName}});
});

var myChart = echarts.init(document.getElementById('main'), null, {renderer: 'canvas'});
myChart.setOption({
    animation: false,
    backgroundColor: '#fff',
    title: titleList,
    grid: grids,
    xAxis: xAxes,
    yAxis: yAxes,
    series: series,
    graphic: graphics
});
</script>
</body>
</html>
